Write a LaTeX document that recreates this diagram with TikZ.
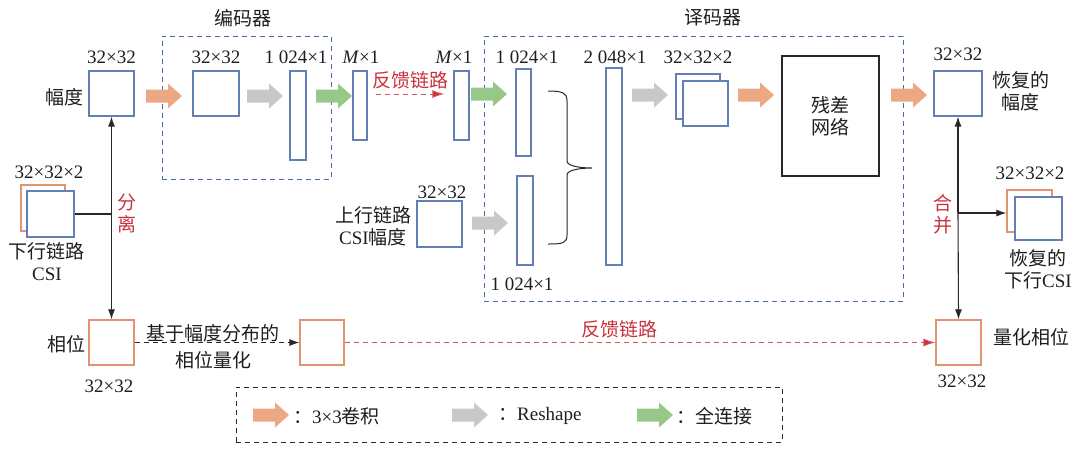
\documentclass[tikz,border=0pt]{standalone}
\usepackage{fontspec}
\setmainfont{Liberation Serif}
\newfontfamily\cjk{Noto Sans CJK SC}
\usetikzlibrary{arrows.meta}
\definecolor{boxblue}{RGB}{98,128,182}
\definecolor{boxorange}{RGB}{224,148,112}
\definecolor{convorange}{RGB}{236,168,130}
\definecolor{reshapegray}{RGB}{200,200,200}
\definecolor{fcgreen}{RGB}{152,200,137}
\definecolor{fbred}{RGB}{200,50,60}
\definecolor{fbline}{RGB}{210,85,90}
\definecolor{dashblue}{RGB}{70,108,170}
\definecolor{txt}{RGB}{30,30,30}
\definecolor{lineblack}{RGB}{40,40,40}
\newcommand\zh[1]{{\cjk #1}}
\begin{document}
\begin{tikzpicture}[x=1pt,y=-1pt,
  every node/.style={font=\fontsize{19}{22}\selectfont, text=txt, inner sep=0pt, align=center},
  bluebox/.style={draw=boxblue, line width=1.2pt, fill=white},
  orangebox/.style={draw=boxorange, line width=1.2pt, fill=white},
  blackbox/.style={draw=lineblack, line width=1.1pt, fill=white},
  sz/.style 2 args={minimum width=#1, minimum height=#2},
  groupbox/.style={draw=dashblue, line width=0.9pt, dash pattern=on 5pt off 4pt},
  legendbox/.style={draw=lineblack, line width=0.9pt, dash pattern=on 5pt off 4pt},
  conn/.style={draw=lineblack, line width=1.1pt},
  tip/.style={-{Latex[length=10pt,width=7pt]}},
  fbconn/.style={draw=fbline, line width=1pt, dash pattern=on 5pt off 4pt, -{Latex[length=12pt,width=8pt,fill=fbred]}},
  redtxt/.style={text=fbred},
  fatarrow/.pic={\path[pic actions] (0,6.5) -- (22,6.5) -- (22,12.5) -- (36,0) -- (22,-12.5) -- (22,-6.5) -- (0,-6.5) -- cycle;}
]
\useasboundingbox (0,0) rectangle (1075,448);

% group boxes
\node[groupbox, sz={169pt}{143pt}] (encoder) at (246.5,107.5) {};
\node[groupbox, sz={419pt}{265pt}] (decoder) at (693.5,168.5) {};
\node[legendbox, sz={546pt}{55pt}] (legend) at (509,414.5) {};
\node (enctitle) at (243,18) {\zh{编码器}};
\node (dectitle) at (713,18) {\zh{译码器}};

% top row
\node[bluebox, sz={45pt}{45pt}] (amp) at (111.5,93.5) {};
\node (ampdim) at (111.5,57) {32×32};
\node[anchor=east] (amplbl) at (84,97) {\zh{幅度}};

\node[bluebox, sz={46pt}{45pt}] (enc32) at (216,93.5) {};
\node (enc32dim) at (216,57) {32×32};
\node[bluebox, sz={16pt}{89pt}] (enc1024) at (298,115.5) {};
\node (enc1024dim) at (296,57) {1 024×1};
\node[bluebox, sz={14pt}{69pt}] (m1) at (360,105.5) {};
\node (m1dim) at (361,57) {\textit{M}×1};
\node[bluebox, sz={15pt}{69pt}] (m2) at (461.5,105.5) {};
\node (m2dim) at (454,57) {\textit{M}×1};
\node[redtxt] (fbtop) at (410,80) {\zh{反馈链路}};
\draw[fbconn]
  ([xshift=8pt,yshift=11.5pt]m1.east) -- ([xshift=-9pt,yshift=11.5pt]m2.west);

% decoder
\node[bluebox, sz={15pt}{87pt}] (deca) at (523.5,112.5) {};
\node (decadim) at (527,57) {1 024×1};
\node[bluebox, sz={16pt}{89pt}] (decb) at (525,220.5) {};
\node (decbdim) at (522,284) {1 024×1};
\node[bluebox, sz={16pt}{197pt}] (dec2048) at (614,166.5) {};
\node (dec2048dim) at (615,57) {2 048×1};
\node[bluebox, sz={44pt}{45pt}] (stackback) at (698,96.5) {};
\node[bluebox, sz={45pt}{45pt}] (stackfront) at (705.5,103.5) {};
\node (stackdim) at (698,57) {32×32×2};
\node[blackbox, sz={97pt}{120pt}] (res) at (830.5,116) {\zh{残差}\\\zh{网络}};

\node[bluebox, sz={45pt}{46pt}] (up) at (439.5,224) {};
\node (updim) at (442,192) {32×32};
\node (uplbl) at (373,226) {\zh{上行链路}\\CSI\zh{幅度}};

% brace
\draw[line width=1pt, lineblack] (548,91) .. controls (563,91) and (567,93) .. (567,101) -- (567,161)
  .. controls (567,166) and (580,168) .. (592,168)
  .. controls (580,168) and (567,170) .. (567,175) -- (567,235)
  .. controls (567,243) and (563,244) .. (548,244);

% output amplitude
\node[bluebox, sz={48pt}{45pt}] (ramp) at (958,93.5) {};
\node (rampdim) at (958,54) {32×32};
\node[anchor=west] (ramplbl) at (992,91) {\zh{恢复的}\\\zh{幅度}};

% fat arrows
\pic[fill=convorange] at (146,96) {fatarrow};
\pic[fill=reshapegray] at (247,96) {fatarrow};
\pic[fill=fcgreen] at (316,96) {fatarrow};
\pic[fill=fcgreen] at (471,94) {fatarrow};
\pic[fill=reshapegray] at (472,223) {fatarrow};
\pic[fill=reshapegray] at (632,95) {fatarrow};
\pic[fill=convorange] at (738,95) {fatarrow};
\pic[fill=convorange] at (891,95) {fatarrow};

% left CSI
\node (ldim) at (49,172) {32×32×2};
\node[orangebox, sz={44pt}{46pt}] (lback) at (43,208) {};
\node[bluebox, sz={47pt}{46pt}] (lfront) at (50.5,214) {};
\node (llbl) at (47,262) {\zh{下行链路}\\CSI};
\coordinate (split) at (111.5,214);
\draw[conn] (lfront.east) -- (split);
\draw[conn, tip] (split) -- (amp.south);
\node[redtxt] (splitlbl) at (127,213) {\zh{分}\\\zh{离}};

% phase
\node[orangebox, sz={45pt}{45pt}] (phase) at (111.5,342.5) {};
\draw[conn, tip] (split) -- (phase.north);
\node[anchor=east] (phaselbl) at (86,344) {\zh{相位}};
\node (phasedim) at (109,386) {32×32};
\node[orangebox, sz={44pt}{45pt}] (phase2) at (322,342.5) {};
\draw[conn, line width=1pt, dash pattern=on 5pt off 4pt, tip] (phase.east) -- (phase2.west);
\node[font=\fontsize{19}{27}\selectfont] (qlbl) at (213,347) {\zh{基于幅度分布的}\\\zh{相位量化}};

% right side
\node[orangebox, sz={45pt}{45pt}] (qphase) at (958.5,342.5) {};
\node[anchor=west] (qphaselbl) at (993,337) {\zh{量化相位}};
\node (qphasedim) at (962,381) {32×32};
\draw[fbconn] (phase2.east) -- (qphase.west);
\node[redtxt] (fbbottom) at (619,329) {\zh{反馈链路}};

\node (rdim) at (1030,173) {32×32×2};
\node[orangebox, sz={45pt}{42pt}] (rback) at (1029.5,211) {};
\node[bluebox, sz={47pt}{43pt}] (rfront) at (1038.5,218.5) {};
\node (rlbl) at (1038,269) {\zh{恢复的}\\\zh{下行}CSI};
\coordinate (merge) at (958,213);
\draw[conn, tip] (merge) -- (ramp.south);
\draw[conn, tip] (merge) -- (qphase.north);
\draw[conn, tip] (merge) -- (rback.west |- merge);
\node[redtxt] (mergelbl) at (943,214) {\zh{合}\\\zh{并}};

% legend
\pic[fill=convorange] at (253,415) {fatarrow};
\node[anchor=west] (leg1) at (293,416) {\zh{：}3×3\zh{卷积}};
\pic[fill=reshapegray] at (452,415) {fatarrow};
\node[anchor=west] (leg2) at (498,416) {\zh{：}Reshape};
\pic[fill=fcgreen] at (637,415) {fatarrow};
\node[anchor=west] (leg3) at (676,416) {\zh{：全连接}};
\end{tikzpicture}
\end{document}
